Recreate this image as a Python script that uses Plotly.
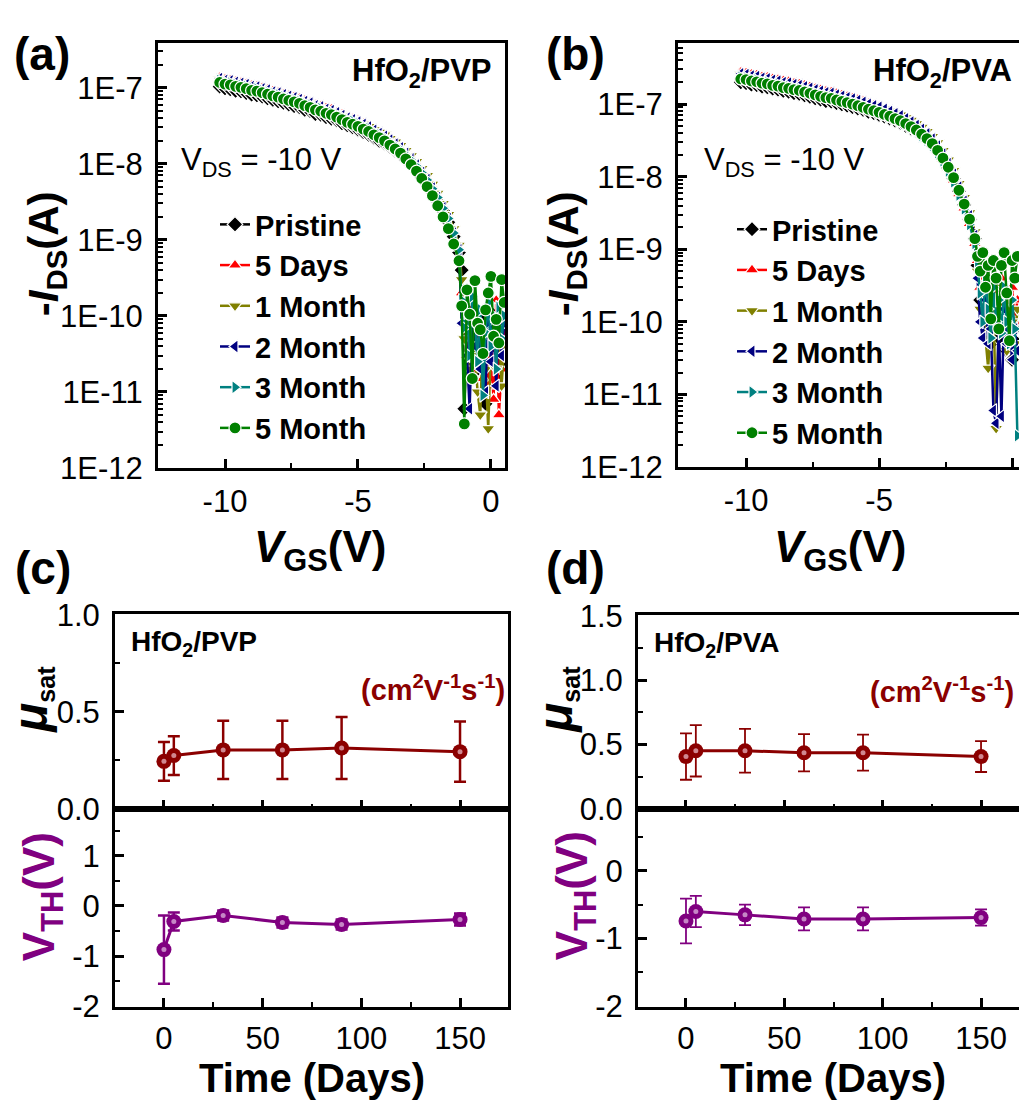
import plotly.graph_objects as go

FONT = "Arial, Liberation Sans, sans-serif"

# ---------------- (a) HfO2/PVP transfer curves ----------------
vgs_a = [-10.2, -10.0, -9.8, -9.6, -9.4, -9.2, -9.0, -8.8, -8.6, -8.4,
         -8.2, -8.0, -7.8, -7.6, -7.4, -7.2, -7.0, -6.8, -6.6, -6.4,
         -6.2, -6.0, -5.8, -5.6, -5.4, -5.2, -5.0, -4.8, -4.6, -4.4,
         -4.2, -4.0, -3.8, -3.6, -3.4, -3.2, -3.0, -2.8, -2.6, -2.4,
         -2.2, -2.0, -1.8, -1.6, -1.4, -1.2,
         -1.1, -1.0, -0.9, -0.8, -0.7, -0.6, -0.5, -0.4, -0.3, -0.2,
         -0.1, 0.0, 0.1, 0.2, 0.3, 0.4, 0.5]

ids_a_pristine = [1.03e-7, 9.8e-8, 9.5e-8, 9.1e-8, 8.9e-8, 8.5e-8, 8.1e-8, 7.9e-8, 7.6e-8, 7.2e-8,
                  6.9e-8, 6.6e-8, 6.3e-8, 6.0e-8, 5.7e-8, 5.5e-8, 5.1e-8, 4.9e-8, 4.5e-8, 4.4e-8,
                  4.1e-8, 3.9e-8, 3.7e-8, 3.4e-8, 3.2e-8, 3.0e-8, 2.8e-8, 2.6e-8, 2.4e-8, 2.2e-8,
                  2.0e-8, 1.85e-8, 1.65e-8, 1.48e-8, 1.32e-8, 1.13e-8, 9.7e-9, 8.1e-9, 6.6e-9, 5.4e-9,
                  4.2e-9, 3.2e-9, 2.4e-9, 1.7e-9, 1.1e-9, 6.8e-10,
                  4e-10, 6e-12, 8e-11, 3e-11, 1.2e-10, 5e-11, 2e-11, 9e-11, 4e-11, 7e-12,
                  6e-11, 1.1e-10, 3e-11, 1.5e-11, 8e-11, 2.5e-11, 5e-11]
ids_a_5days = [1.36e-7, 1.29e-7, 1.26e-7, 1.21e-7, 1.17e-7, 1.13e-7, 1.07e-7, 1.05e-7, 1.0e-7, 9.5e-8,
               9.1e-8, 8.7e-8, 8.3e-8, 7.9e-8, 7.6e-8, 7.2e-8, 6.8e-8, 6.4e-8, 6.0e-8, 5.7e-8,
               5.4e-8, 5.2e-8, 4.8e-8, 4.5e-8, 4.1e-8, 3.9e-8, 3.7e-8, 3.4e-8, 3.15e-8, 2.85e-8,
               2.6e-8, 2.4e-8, 2.1e-8, 1.9e-8, 1.68e-8, 1.43e-8, 1.21e-8, 1.0e-8, 8.1e-9, 6.5e-9,
               5.0e-9, 3.8e-9, 2.8e-9, 2.0e-9, 1.3e-9, 7.8e-10,
               2e-10, 8e-11, 3e-11, 1.2e-10, 5e-11, 2e-11, 9e-11, 4e-11, 1.5e-11, 7e-11,
               1.2e-11, 3e-11, 8e-12, 1.6e-10, 5e-12, 2e-11, 6e-11]
ids_a_1month = [1.27e-7, 1.21e-7, 1.19e-7, 1.13e-7, 1.10e-7, 1.06e-7, 1.0e-7, 9.8e-8, 9.4e-8, 9.0e-8,
                8.5e-8, 8.2e-8, 7.8e-8, 7.5e-8, 7.1e-8, 6.8e-8, 6.4e-8, 6.1e-8, 5.7e-8, 5.4e-8,
                5.1e-8, 4.9e-8, 4.6e-8, 4.3e-8, 4.0e-8, 3.8e-8, 3.5e-8, 3.3e-8, 3.1e-8, 2.8e-8,
                2.6e-8, 2.4e-8, 2.15e-8, 1.93e-8, 1.74e-8, 1.5e-8, 1.28e-8, 1.07e-8, 8.7e-9, 7.0e-9,
                5.4e-9, 4.1e-9, 3.0e-9, 2.15e-9, 1.4e-9, 8.5e-10,
                3e-10, 5e-11, 1.5e-10, 2e-11, 7e-11, 3e-11, 1e-11, 5e-12, 6e-11, 2e-11,
                3.3e-12, 4e-11, 1e-10, 2e-11, 7e-11, 1.2e-11, 4e-11]
ids_a_2month = [1.32e-7, 1.25e-7, 1.23e-7, 1.18e-7, 1.14e-7, 1.10e-7, 1.04e-7, 1.02e-7, 9.7e-8, 9.3e-8,
                8.8e-8, 8.5e-8, 8.1e-8, 7.7e-8, 7.4e-8, 7.0e-8, 6.6e-8, 6.3e-8, 5.8e-8, 5.6e-8,
                5.2e-8, 5.0e-8, 4.7e-8, 4.3e-8, 4.0e-8, 3.8e-8, 3.55e-8, 3.3e-8, 3.05e-8, 2.75e-8,
                2.5e-8, 2.3e-8, 2.05e-8, 1.82e-8, 1.62e-8, 1.37e-8, 1.16e-8, 9.6e-9, 7.7e-9, 6.2e-9,
                4.8e-9, 3.6e-9, 2.65e-9, 1.9e-9, 1.23e-9, 7.4e-10,
                8e-11, 1.5e-10, 3e-11, 6e-12, 9e-11, 4e-11, 1.2e-10, 2e-11, 6e-11, 1e-11,
                1.4e-10, 2.5e-11, 7e-11, 1.2e-11, 1e-10, 3e-11, 8e-11]
ids_a_3month = [1.24e-7, 1.18e-7, 1.15e-7, 1.10e-7, 1.07e-7, 1.03e-7, 9.8e-8, 9.6e-8, 9.1e-8, 8.7e-8,
                8.3e-8, 8.0e-8, 7.6e-8, 7.2e-8, 6.9e-8, 6.6e-8, 6.2e-8, 5.9e-8, 5.5e-8, 5.3e-8,
                4.9e-8, 4.7e-8, 4.4e-8, 4.1e-8, 3.8e-8, 3.6e-8, 3.35e-8, 3.1e-8, 2.9e-8, 2.6e-8,
                2.4e-8, 2.2e-8, 1.95e-8, 1.74e-8, 1.55e-8, 1.32e-8, 1.12e-8, 9.3e-9, 7.6e-9, 6.1e-9,
                4.7e-9, 3.6e-9, 2.6e-9, 1.9e-9, 1.23e-9, 7.4e-10,
                1.6e-10, 7e-11, 1.1e-10, 3e-11, 1.8e-10, 9e-11, 2.5e-11, 1.2e-10, 9e-12, 6e-11,
                1.5e-10, 4e-11, 1e-10, 2e-11, 1.3e-10, 5e-11, 1e-10]
ids_a_5month = [1.17e-7, 1.11e-7, 1.09e-7, 1.04e-7, 1.01e-7, 9.7e-8, 9.2e-8, 9.0e-8, 8.6e-8, 8.2e-8,
                7.8e-8, 7.5e-8, 7.1e-8, 6.8e-8, 6.5e-8, 6.2e-8, 5.8e-8, 5.5e-8, 5.1e-8, 4.9e-8,
                4.6e-8, 4.4e-8, 4.1e-8, 3.8e-8, 3.5e-8, 3.3e-8, 3.1e-8, 2.85e-8, 2.65e-8, 2.4e-8,
                2.2e-8, 2.0e-8, 1.76e-8, 1.56e-8, 1.38e-8, 1.16e-8, 9.7e-9, 8.0e-9, 6.4e-9, 5.0e-9,
                3.8e-9, 2.8e-9, 2.0e-9, 1.4e-9, 8.8e-10, 5.3e-10,
                1.35e-10, 3.8e-12, 2.2e-10, 1.05e-10, 1.5e-11, 2.9e-10, 8e-11, 6.6e-11, 3.2e-11, 1.2e-10,
                2.0e-10, 3.3e-10, 5.4e-11, 9e-11, 4.4e-11, 3.0e-10, 1.5e-10]

# ---------------- (b) HfO2/PVA transfer curves ----------------
vgs_b = [-10.2, -10.0, -9.8, -9.6, -9.4, -9.2, -9.0, -8.8, -8.6, -8.4,
         -8.2, -8.0, -7.8, -7.6, -7.4, -7.2, -7.0, -6.8, -6.6, -6.4,
         -6.2, -6.0, -5.8, -5.6, -5.4, -5.2, -5.0, -4.8, -4.6, -4.4,
         -4.2, -4.0, -3.8, -3.6, -3.4, -3.2, -3.0, -2.8, -2.6, -2.4,
         -2.2, -2.0, -1.8, -1.6, -1.4,
         -1.3, -1.2, -1.1, -1.0, -0.9, -0.8, -0.7, -0.6, -0.5, -0.4,
         -0.3, -0.2, -0.1, 0.0, 0.1, 0.2]

ids_b_pristine = [2.0e-7, 1.95e-7, 1.86e-7, 1.82e-7, 1.74e-7, 1.7e-7, 1.63e-7, 1.58e-7, 1.52e-7, 1.48e-7,
                  1.42e-7, 1.38e-7, 1.32e-7, 1.26e-7, 1.2e-7, 1.15e-7, 1.1e-7, 1.08e-7, 1.03e-7, 9.9e-8,
                  9.5e-8, 9.1e-8, 8.7e-8, 8.3e-8, 7.8e-8, 7.5e-8, 7.1e-8, 6.7e-8, 6.3e-8, 5.9e-8,
                  5.5e-8, 5.0e-8, 4.6e-8, 4.2e-8, 3.7e-8, 3.2e-8, 2.75e-8, 2.25e-8, 1.76e-8, 1.32e-8,
                  9.5e-9, 6.3e-9, 4.1e-9, 2.6e-9, 1.4e-9,
                  6e-10, 2e-10, 4e-10, 1e-10, 3e-10, 5e-11, 2e-10, 1.5e-10, 6e-11, 3e-10,
                  1e-10, 4e-11, 1.3e-10, 3e-11, 8e-11, 5e-11]
ids_b_5days = [2.76e-7, 2.7e-7, 2.58e-7, 2.52e-7, 2.4e-7, 2.36e-7, 2.25e-7, 2.19e-7, 2.1e-7, 2.05e-7,
               1.95e-7, 1.9e-7, 1.82e-7, 1.74e-7, 1.65e-7, 1.58e-7, 1.51e-7, 1.47e-7, 1.4e-7, 1.34e-7,
               1.28e-7, 1.22e-7, 1.16e-7, 1.1e-7, 1.02e-7, 9.7e-8, 9.2e-8, 8.5e-8, 7.9e-8, 7.3e-8,
               6.8e-8, 6.1e-8, 5.5e-8, 4.9e-8, 4.2e-8, 3.6e-8, 3.0e-8, 2.4e-8, 1.8e-8, 1.3e-8,
               9.0e-9, 5.8e-9, 3.7e-9, 2.25e-9, 1.2e-9,
               7e-10, 3e-10, 5e-10, 2e-10, 4e-10, 1.2e-10, 3e-10, 2e-10, 9e-11, 4e-10,
               2e-10, 1.5e-10, 6e-11, 3e-10, 1e-10, 2e-10]
ids_b_1month = [2.53e-7, 2.47e-7, 2.37e-7, 2.31e-7, 2.2e-7, 2.16e-7, 2.06e-7, 2.01e-7, 1.92e-7, 1.88e-7,
                1.8e-7, 1.75e-7, 1.68e-7, 1.6e-7, 1.53e-7, 1.46e-7, 1.4e-7, 1.37e-7, 1.31e-7, 1.25e-7,
                1.2e-7, 1.15e-7, 1.1e-7, 1.05e-7, 9.8e-8, 9.4e-8, 9.0e-8, 8.5e-8, 8.0e-8, 7.5e-8,
                7.1e-8, 6.5e-8, 6.0e-8, 5.4e-8, 4.8e-8, 4.2e-8, 3.6e-8, 2.95e-8, 2.3e-8, 1.7e-8,
                1.22e-8, 8.1e-9, 5.2e-9, 3.2e-9, 1.75e-9,
                5e-10, 1.5e-10, 3e-10, 6e-11, 2.3e-11, 1e-10, 2e-10, 3.4e-12, 1.2e-10, 3e-10,
                8e-11, 4e-11, 2e-10, 1e-10, 5e-11, 1.5e-10]
ids_b_2month = [2.62e-7, 2.56e-7, 2.45e-7, 2.4e-7, 2.28e-7, 2.24e-7, 2.14e-7, 2.08e-7, 1.99e-7, 1.95e-7,
                1.86e-7, 1.81e-7, 1.74e-7, 1.66e-7, 1.58e-7, 1.51e-7, 1.44e-7, 1.41e-7, 1.34e-7, 1.29e-7,
                1.23e-7, 1.18e-7, 1.12e-7, 1.06e-7, 1.0e-7, 9.5e-8, 9.1e-8, 8.5e-8, 7.9e-8, 7.4e-8,
                6.9e-8, 6.3e-8, 5.7e-8, 5.1e-8, 4.5e-8, 3.9e-8, 3.3e-8, 2.65e-8, 2.05e-8, 1.52e-8,
                1.08e-8, 7.2e-9, 4.6e-9, 2.9e-9, 1.55e-9,
                4e-10, 1e-10, 6e-11, 2e-10, 5e-11, 8e-11, 6e-12, 4e-12, 9e-11, 5e-12,
                1.5e-10, 5e-11, 1e-10, 3e-11, 8e-11, 4e-11]
ids_b_3month = [2.34e-7, 2.29e-7, 2.19e-7, 2.14e-7, 2.04e-7, 2.0e-7, 1.91e-7, 1.86e-7, 1.78e-7, 1.74e-7,
                1.66e-7, 1.62e-7, 1.55e-7, 1.48e-7, 1.41e-7, 1.35e-7, 1.29e-7, 1.26e-7, 1.2e-7, 1.15e-7,
                1.1e-7, 1.05e-7, 1.0e-7, 9.4e-8, 8.8e-8, 8.3e-8, 7.9e-8, 7.4e-8, 6.8e-8, 6.3e-8,
                5.9e-8, 5.3e-8, 4.8e-8, 4.3e-8, 3.7e-8, 3.2e-8, 2.7e-8, 2.15e-8, 1.65e-8, 1.2e-8,
                8.5e-9, 5.6e-9, 3.6e-9, 2.2e-9, 1.2e-9,
                6e-10, 2.5e-10, 1e-10, 4e-10, 1.5e-10, 6e-11, 3e-10, 1e-10, 2e-10, 7e-11,
                3e-10, 1e-10, 5e-11, 2e-10, 8e-11, 2.7e-12]
ids_b_5month = [2.22e-7, 2.18e-7, 2.08e-7, 2.03e-7, 1.94e-7, 1.9e-7, 1.81e-7, 1.77e-7, 1.69e-7, 1.65e-7,
                1.58e-7, 1.54e-7, 1.47e-7, 1.41e-7, 1.34e-7, 1.28e-7, 1.23e-7, 1.2e-7, 1.14e-7, 1.09e-7,
                1.05e-7, 1.0e-7, 9.5e-8, 9.0e-8, 8.5e-8, 8.1e-8, 7.7e-8, 7.2e-8, 6.8e-8, 6.3e-8,
                5.9e-8, 5.4e-8, 4.9e-8, 4.4e-8, 3.85e-8, 3.35e-8, 2.85e-8, 2.3e-8, 1.8e-8, 1.35e-8,
                9.7e-9, 6.5e-9, 4.2e-9, 2.6e-9, 1.4e-9,
                8e-10, 5e-10, 9e-10, 3e-10, 6e-10, 1.1e-10, 7e-10, 4e-10, 8e-11, 6e-10,
                9e-10, 2.5e-10, 5.5e-11, 7e-10, 4e-10, 8e-10]

series_names = ["Pristine", "5 Days", "1 Month", "2 Month", "3 Month", "5 Month"]
series_colors = ["#000000", "#FF0000", "#808000", "#000080", "#008080", "#008000"]
series_symbols = ["diamond", "triangle-up", "triangle-down", "triangle-left", "triangle-right", "circle"]

# ---------------- (c)/(d) stability vs time ----------------
days = [0, 5, 30, 60, 90, 150]
mu_pvp = [0.244, 0.274, 0.303, 0.303, 0.313, 0.294]
mu_pvp_err = [0.10, 0.10, 0.15, 0.15, 0.16, 0.155]
vth_pvp = [-0.87, -0.31, -0.19, -0.33, -0.37, -0.27]
vth_pvp_err = [0.68, 0.18, 0.10, 0.10, 0.10, 0.12]
mu_pva = [0.405, 0.45, 0.45, 0.435, 0.435, 0.405]
mu_pva_err = [0.18, 0.20, 0.17, 0.145, 0.14, 0.12]
vth_pva = [-0.74, -0.60, -0.65, -0.71, -0.71, -0.69]
vth_pva_err = [0.33, 0.23, 0.15, 0.17, 0.17, 0.12]

MU_COLOR = "#8B0000"
VTH_COLOR = "#800080"

fig = go.Figure()

def add_transfer(vgs, ys_list, xa, ya, leg):
    for name, col, sym, ys in zip(series_names, series_colors, series_symbols, ys_list):
        fig.add_trace(go.Scatter(
            x=vgs, y=ys, mode="lines+markers", name=name, xaxis=xa, yaxis=ya,
            legend=leg,
            line=dict(color=col, width=2.5),
            marker=dict(symbol=sym, size=12, color=col, line=dict(color="white", width=1.2)),
        ))

add_transfer(vgs_a, [ids_a_pristine, ids_a_5days, ids_a_1month, ids_a_2month, ids_a_3month, ids_a_5month],
             "x", "y", "legend")
add_transfer(vgs_b, [ids_b_pristine, ids_b_5days, ids_b_1month, ids_b_2month, ids_b_3month, ids_b_5month],
             "x2", "y2", "legend2")

def add_time(y, err, col, hl, xa, ya, ethick, ewidth):
    fig.add_trace(go.Scatter(
        x=days, y=y, mode="lines+markers", xaxis=xa, yaxis=ya, showlegend=False,
        line=dict(color=col, width=3),
        marker=dict(symbol="circle", size=15, color=col),
        error_y=dict(type="data", array=err, visible=True, color=col, thickness=ethick, width=ewidth),
    ))
    fig.add_trace(go.Scatter(
        x=days, y=y, mode="markers", xaxis=xa, yaxis=ya, showlegend=False, hoverinfo="skip",
        marker=dict(symbol="circle", size=5, color=hl, line=dict(width=0)),
    ))

add_time(mu_pvp, mu_pvp_err, MU_COLOR, "rgba(215,150,160,0.9)", "x3", "y3", 2.5, 6)
add_time(vth_pvp, vth_pvp_err, VTH_COLOR, "rgba(205,150,205,0.9)", "x4", "y4", 2.5, 6)
add_time(mu_pva, mu_pva_err, MU_COLOR, "rgba(215,150,160,0.9)", "x5", "y5", 1.8, 6)
add_time(vth_pva, vth_pva_err, VTH_COLOR, "rgba(205,150,205,0.9)", "x6", "y6", 1.8, 6)

W, H = 1019, 1103
def px(v): return v / W
def py(v): return 1 - v / H

tickfont = dict(family=FONT, size=31, color="black")
common = dict(showline=True, linecolor="black", linewidth=3, ticks="inside", ticklen=9,
              tickwidth=2.5, tickcolor="black", showgrid=False, zeroline=False,
              tickfont=tickfont)

dec_vals = [1e-12, 1e-11, 1e-10, 1e-9, 1e-8, 1e-7]
dec_text = ["1E-12", "1E-11", "1E-10", "1E-9", "1E-8", "1E-7"]
log_minor = [m * 10.0 ** e for e in range(-12, -6) for m in range(2, 10)]

log_y = dict(type="log", tickmode="array", tickvals=dec_vals, ticktext=dec_text,
             minor=dict(tickmode="array", tickvals=log_minor, ticks="inside", ticklen=5,
                        tickwidth=2, tickcolor="black", showgrid=False))
vgs_x = dict(tickmode="array", tickvals=[-10, -5, 0], ticktext=["-10", "-5", "0"],
             minor=dict(tickmode="array", tickvals=[-7.5, -2.5], ticks="inside", ticklen=5,
                        tickwidth=2, tickcolor="black", showgrid=False))
day_x = dict(tickmode="array", tickvals=[0, 50, 100, 150], ticktext=["0", "50", "100", "150"],
             minor=dict(tickmode="array", tickvals=[25, 75, 125], ticks="inside", ticklen=5,
                        tickwidth=2, tickcolor="black", showgrid=False))
def lin_minor(vals):
    return dict(tickmode="array", tickvals=vals, ticks="inside", ticklen=5, tickwidth=2,
                tickcolor="black", showgrid=False)

top_dom = [py(466), py(27)]
mu_dom_c = [py(818), py(617)]
vth_dom = [py(1022), py(818)]
mu_dom_d = [py(818), py(618)]

legfont = dict(family=FONT, size=29, color="black", weight="bold")

fig.update_layout(
    width=W, height=H, margin=dict(l=0, r=0, t=0, b=0),
    paper_bgcolor="white", plot_bgcolor="white",
    font=dict(family=FONT, color="black"),
    xaxis=dict(domain=[px(158), px(505)], range=[-12.52, 0.53], anchor="y", mirror=True,
               ticklabelstandoff=4, **vgs_x, **common),
    yaxis=dict(domain=top_dom, range=[-12.003, -6.415], anchor="x", mirror=True,
               ticklabelstandoff=6, **log_y, **common),
    xaxis2=dict(domain=[px(678), 1.0], range=[-12.56, 0.26], anchor="y2", mirror=True,
                ticklabelstandoff=4, **vgs_x, **common),
    yaxis2=dict(domain=[py(465), py(27)], range=[-12.003, -6.16], anchor="x2", mirror=False,
                ticklabelstandoff=6, **log_y, **common),
    xaxis3=dict(domain=[px(115), px(508)], range=[-24.8, 174.3], anchor="y3", mirror=True,
                showticklabels=False, **day_x, **common),
    yaxis3=dict(domain=mu_dom_c, range=[-0.002, 1.002], anchor="x3", mirror=True,
                tickmode="array", tickvals=[0, 0.5, 1.0], ticktext=["0.0", "0.5", "1.0"],
                minor=lin_minor([0.25, 0.75]), ticklabelstandoff=6, **common),
    xaxis4=dict(domain=[px(115), px(508)], range=[-24.8, 174.3], anchor="y4", mirror=True,
                ticklabelstandoff=2, **day_x, **common),
    yaxis4=dict(domain=vth_dom, range=[-2.005, 1.93], anchor="x4", mirror=True,
                tickmode="array", tickvals=[-2, -1, 0, 1], ticktext=["-2", "-1", "0", "1"],
                minor=lin_minor([-1.5, -0.5, 0.5, 1.5]), ticklabelstandoff=6, **common),
    xaxis5=dict(domain=[px(638), 1.0], range=[-24.4, 169.3], anchor="y5", mirror=True,
                showticklabels=False, **day_x, **common),
    yaxis5=dict(domain=mu_dom_d, range=[-0.003, 1.503], anchor="x5", mirror=False,
                tickmode="array", tickvals=[0, 0.5, 1.0, 1.5], ticktext=["0.0", "0.5", "1.0", "1.5"],
                minor=lin_minor([0.25, 0.75, 1.25]), ticklabelstandoff=6, **common),
    xaxis6=dict(domain=[px(638), 1.0], range=[-24.4, 169.3], anchor="y6", mirror=True,
                ticklabelstandoff=2, **day_x, **common),
    yaxis6=dict(domain=vth_dom, range=[-2.005, 0.914], anchor="x6", mirror=False,
                tickmode="array", tickvals=[-2, -1, 0], ticktext=["-2", "-1", "0"],
                minor=lin_minor([-1.5, -0.5, 0.5]), ticklabelstandoff=6, **common),
    legend=dict(x=px(215), y=py(188), xanchor="left", yanchor="top", bgcolor="rgba(0,0,0,0)",
                font=legfont, tracegroupgap=0),
    legend2=dict(x=px(732), y=py(193), xanchor="left", yanchor="top", bgcolor="rgba(0,0,0,0)",
                 font=legfont, tracegroupgap=0),
)

ann = []
def A(text, x, y, size, color="black", xanchor="center", yanchor="middle", angle=0):
    ann.append(dict(text=text, x=px(x), y=py(y), xref="paper", yref="paper", showarrow=False,
                    xanchor=xanchor, yanchor=yanchor, textangle=angle,
                    font=dict(family=FONT, size=size, color=color)))

# panel labels
A("<b>(a)</b>", 42, 38, 46)
A("<b>(b)</b>", 575, 38, 46)
A("<b>(c)</b>", 43, 569, 46)
A("<b>(d)</b>", 575, 569, 46)
# in-plot labels
A("<b>HfO<sub>2</sub>/PVP</b>", 494, 58, 31, xanchor="right")
A("<b>HfO<sub>2</sub>/PVA</b>", 1014, 58, 31, xanchor="right")
A("V<sub>DS</sub> = -10 V", 179, 150, 31, xanchor="left")
A("V<sub>DS</sub> = -10 V", 702, 150, 31, xanchor="left")
A("<b>HfO<sub>2</sub>/PVP</b>", 129, 647, 28, xanchor="left")
A("<b>HfO<sub>2</sub>/PVA</b>", 652, 648, 28, xanchor="left")
A("<b>(cm<sup>2</sup>V<sup>-1</sup>s<sup>-1</sup>)</b>", 507, 693, 29, color=MU_COLOR, xanchor="right")
A("<b>(cm<sup>2</sup>V<sup>-1</sup>s<sup>-1</sup>)</b>", 1016, 695, 29, color=MU_COLOR, xanchor="right")
# axis titles
A("<b>-<i>I</i><sub>DS</sub>(A)</b>", 46, 245, 42, angle=-90)
A("<b>-<i>I</i><sub>DS</sub>(A)</b>", 566, 245, 42, angle=-90)
A("<b><i>V</i><sub>GS</sub>(V)</b>", 320, 550, 44)
A("<b><i>V</i><sub>GS</sub>(V)</b>", 840, 550, 44)
A("<b><span style='font-size:48px'><i>μ</i></span><sub>sat</sub></b>", 32, 705, 36, angle=-90)
A("<b><span style='font-size:48px'><i>μ</i></span><sub>sat</sub></b>", 557, 705, 36, angle=-90)
A("<b>V<sub>TH</sub>(V)</b>", 42, 909, 44, color=VTH_COLOR, angle=-90)
A("<b>V<sub>TH</sub>(V)</b>", 575, 908, 44, color=VTH_COLOR, angle=-90)
A("<b>Time (Days)</b>", 312, 1096, 40)
A("<b>Time (Days)</b>", 833, 1096, 40)

fig.update_layout(annotations=ann)
fig.write_html("out.html")
